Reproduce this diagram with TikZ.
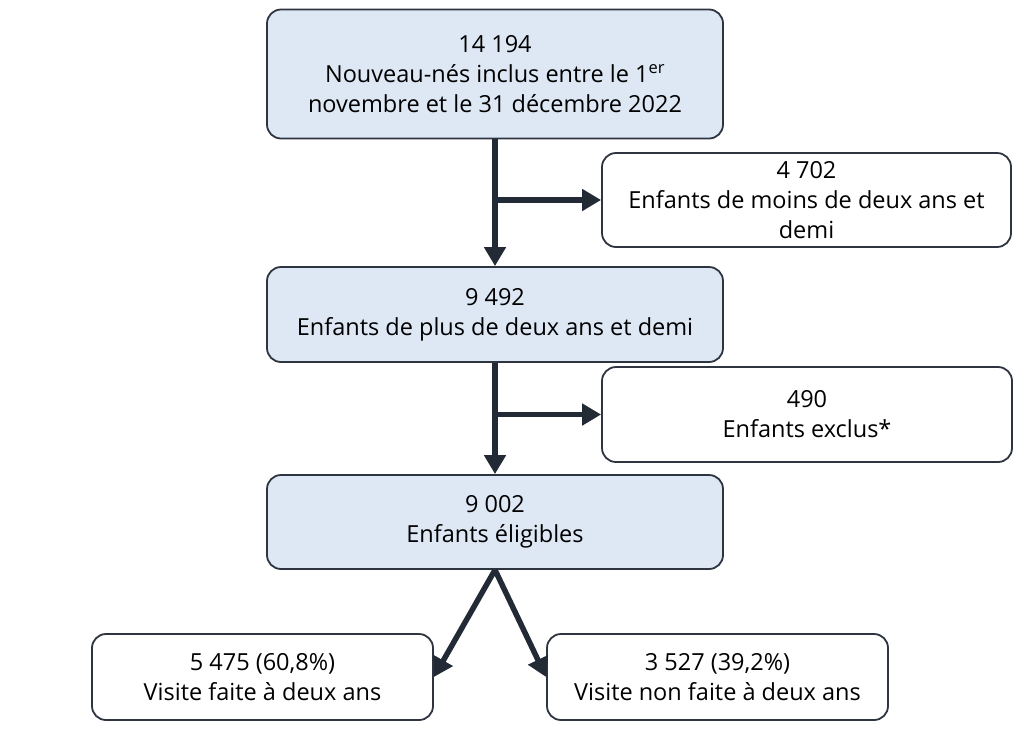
\documentclass[tikz,border=0pt]{standalone}
\usepackage{fontspec}
\setmainfont{Open Sans}
\usetikzlibrary{arrows.meta}
\definecolor{boxblue}{HTML}{DEE8F5}
\definecolor{edgec}{HTML}{2E3440}
\definecolor{arrc}{HTML}{222A35}
\begin{document}
\begin{tikzpicture}[x=1pt,y=-1pt,
  box/.style={draw=edgec, line width=1.8pt, rounded corners=14pt, align=center,
    font=\fontsize{23.5}{30}\selectfont, text=black, inner sep=0pt},
  bluebox/.style={box, fill=boxblue},
  whitebox/.style={box, fill=white},
  arr/.style={draw=arrc, line width=5.5pt, -{Triangle[length=19pt,width=21pt]}}]
\useasboundingbox (0,0) rectangle (1027,729);
\node[bluebox, minimum width=456pt, minimum height=129pt] (b1) at (495,74)
  {14 194\\Nouveau-nés inclus entre le 1\textsuperscript{er}\\novembre et le 31 décembre 2022};
\node[whitebox, minimum width=409pt, minimum height=94pt] (b2) at (806.5,200)
  {4 702\\Enfants de moins de deux ans et\\demi};
\node[bluebox, minimum width=456pt, minimum height=95pt] (b3) at (495,314.5)
  {9 492\\Enfants de plus de deux ans et demi};
\node[whitebox, minimum width=410pt, minimum height=95pt] (b4) at (807,414.5)
  {490\\Enfants exclus*};
\node[bluebox, minimum width=456pt, minimum height=94pt] (b5) at (495,522)
  {9 002\\Enfants éligibles};
\node[whitebox, minimum width=341pt, minimum height=86pt] (b6) at (262.5,677)
  {5 475 (60,8\%)\\Visite faite à deux ans};
\node[whitebox, minimum width=341pt, minimum height=86pt] (b7) at (717.5,677)
  {3 527 (39,2\%)\\Visite non faite à deux ans};
\draw[arr] (b1.south) -- (b3.north);
\draw[arr] (b1.south |- b2.west) -- (b2.west);
\draw[arr] (b3.south) -- (b5.north);
\draw[arr] (b3.south |- b4.west) -- (b4.west);
\draw[arr] (b5.south) -- (b6.east);
\draw[arr] (b5.south) -- (b7.west);
\end{tikzpicture}
\end{document}
